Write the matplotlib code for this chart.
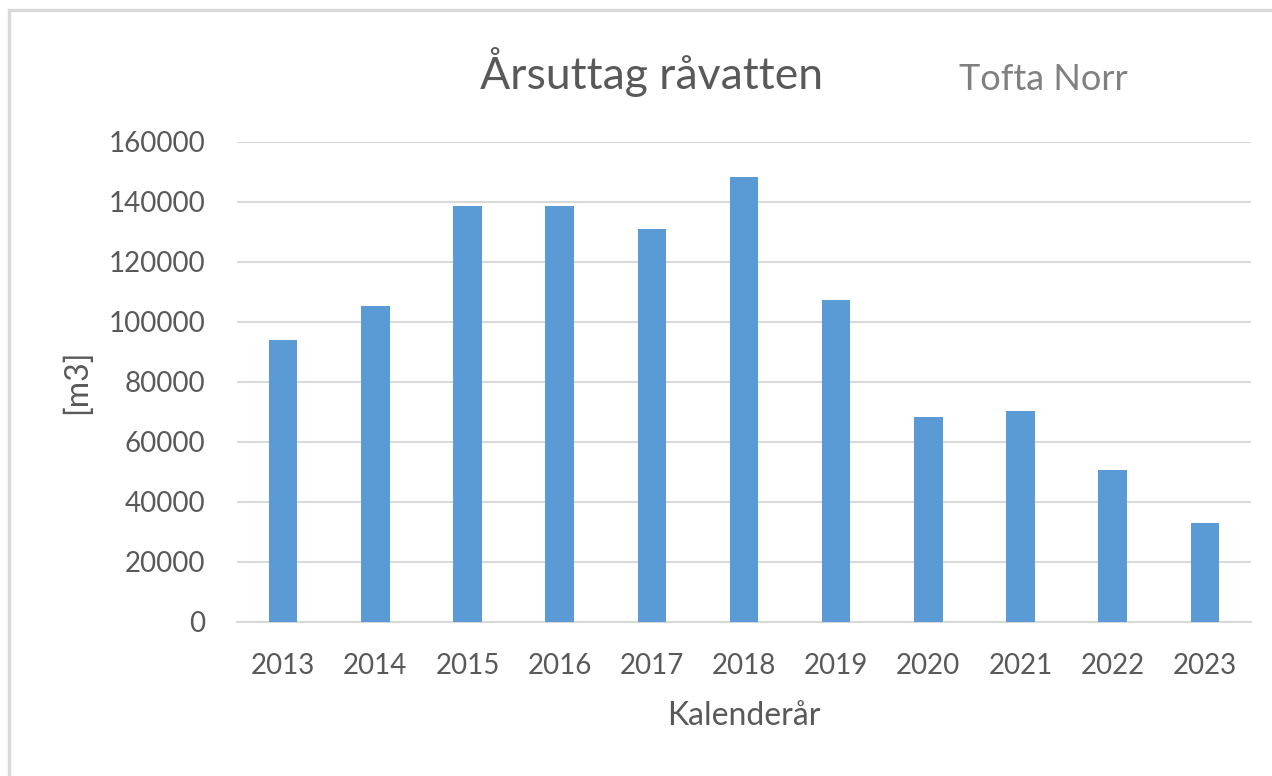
import numpy as np
from matplotlib import pyplot as plt
from matplotlib.patches import Rectangle

# Yearly raw water withdrawal, Tofta Norr
years = ["2013", "2014", "2015", "2016", "2017", "2018",
         "2019", "2020", "2021", "2022", "2023"]
volumes = [94000, 105300, 138700, 138700, 130900, 148500,
           107500, 68500, 70200, 50800, 33000]
yticks = [0, 20000, 40000, 60000, 80000, 100000, 120000, 140000, 160000]

bar_color = "#5B9BD5"
grid_color = "#D9D9D9"
text_color = "#595959"

plt.rcParams["font.family"] = ["Lato", "DejaVu Sans"]

fig = plt.figure(figsize=(12.72, 7.76), dpi=100)
ax = fig.add_axes([237 / 1272, 1 - 622 / 776, (1251 - 237) / 1272, (622 - 142) / 776])

x = np.arange(len(years))
ax.bar(x, volumes, width=0.31, color=bar_color, zorder=3)

ax.set_xlim(-0.5, len(years) - 0.5)
ax.set_ylim(0, 160000)
ax.set_yticks(yticks)
ax.set_yticklabels([str(v) for v in yticks])
ax.set_xticks(x)
ax.set_xticklabels(years)

ax.grid(axis="y", color=grid_color, linewidth=1.5, zorder=0)
for side in ["top", "right", "left"]:
    ax.spines[side].set_visible(False)
ax.spines["bottom"].set_color(grid_color)
ax.spines["bottom"].set_linewidth(1.5)
ax.tick_params(axis="both", length=0, labelsize=20, colors=text_color)
ax.tick_params(axis="y", pad=23)
ax.tick_params(axis="x", pad=22)

ax.set_xlabel("Kalenderår", fontsize=23, color=text_color, labelpad=16)
ax.set_ylabel("[m3]", fontsize=23, color=text_color, labelpad=12)

fig.text(651 / 1272, 1 - 72 / 776, "Årsuttag råvatten", fontsize=32,
         color=text_color, ha="center", va="center")
fig.text(1043 / 1272, 1 - 80 / 776, "Tofta Norr", fontsize=26,
         color="#808080", ha="center", va="center")

# light chart frame (only left and top edges visible in the crop)
fig.patches.append(Rectangle((9 / 1272, -0.1), 1.2, 1 - 10 / 776 + 0.1,
                             transform=fig.transFigure, fill=False,
                             edgecolor=grid_color, linewidth=2.5))

fig.savefig("out.png", dpi=100)
